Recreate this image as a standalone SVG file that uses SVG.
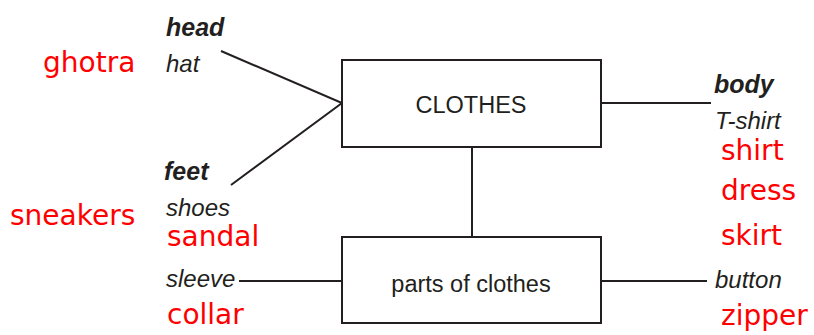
<svg xmlns="http://www.w3.org/2000/svg" width="814" height="335" viewBox="0 0 814 335">
<style>
.ln{stroke:#231f20;stroke-width:2;fill:none}
.box{stroke:#231f20;stroke-width:2;fill:#fff}
.bi{font-family:"Liberation Sans",Arial,sans-serif;font-style:italic;font-weight:bold;font-size:25px;fill:#231f20}
.it{font-family:"Liberation Sans",Arial,sans-serif;font-style:italic;font-size:24px;fill:#231f20}
.nd{font-family:"Liberation Sans",Arial,sans-serif;font-size:23.5px;fill:#231f20;text-anchor:middle}
.rd{font-family:"DejaVu Sans",sans-serif;font-size:28px;fill:#ff0000}
</style>
<rect width="814" height="335" fill="#fff"/>
<g id="connectors">
<path class="ln" d="M221,51 L342,103 L231,185"/>
<path class="ln" d="M601,103 H711"/>
<path class="ln" d="M472,147 V237"/>
<path class="ln" d="M239,281 H342"/>
<path class="ln" d="M601,281 H707"/>
</g>
<g id="clothes">
<rect class="box" x="342" y="60" width="259" height="87"/>
<text class="nd" x="471" y="113">CLOTHES</text>
</g>
<g id="parts">
<rect class="box" x="342" y="237" width="259" height="86"/>
<text class="nd" x="471" y="292">parts of clothes</text>
</g>
<g id="head">
<text class="bi" x="166" y="36">head</text>
<text class="it" x="166" y="72">hat</text>
<text class="rd" x="43" y="72">ghotra</text>
</g>
<g id="feet">
<text class="bi" x="164" y="180">feet</text>
<text class="it" x="166" y="216">shoes</text>
<text class="rd" x="167" y="246">sandal</text>
<text class="rd" x="10" y="225">sneakers</text>
</g>
<g id="parts-left">
<text class="it" x="166" y="287">sleeve</text>
<text class="rd" x="167" y="324">collar</text>
</g>
<g id="body">
<text class="bi" x="714" y="93">body</text>
<text class="it" x="715" y="129">T-shirt</text>
<text class="rd" x="721" y="160">shirt</text>
<text class="rd" x="721" y="200">dress</text>
<text class="rd" x="721" y="245">skirt</text>
</g>
<g id="parts-right">
<text class="it" x="715" y="288">button</text>
<text class="rd" x="721" y="325">zipper</text>
</g>
</svg>
